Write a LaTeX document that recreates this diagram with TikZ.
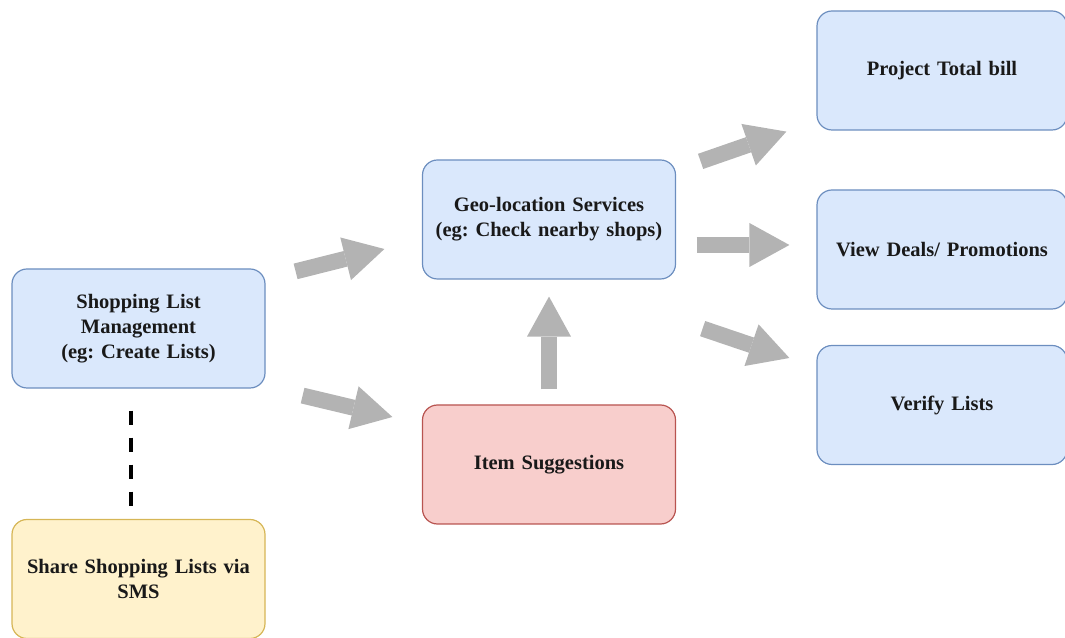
\documentclass[tikz,border=0pt]{standalone}
\usepackage{fontspec}
\setmainfont{Liberation Serif}
\usetikzlibrary{arrows.meta}
\frenchspacing

\definecolor{bluefill}{HTML}{DAE8FC}
\definecolor{blueline}{HTML}{6C8EBF}
\definecolor{redfill}{HTML}{F8CECC}
\definecolor{redline}{HTML}{B85450}
\definecolor{yellowfill}{HTML}{FFF2CC}
\definecolor{yellowline}{HTML}{D6B656}
\definecolor{arrowgray}{HTML}{B3B3B3}

\begin{document}
\begin{tikzpicture}[x=1pt,y=1pt,
		box/.style={draw, rounded corners=15pt, line width=1.2pt, minimum width=253pt, minimum height=119pt,
			text width=248pt, align=center, inner sep=0pt, text=black!90,
			font=\fontsize{20.5}{25}\selectfont\bfseries},
		bluebox/.style={box, fill=bluefill, draw=blueline},
		redbox/.style={box, fill=redfill, draw=redline},
		yellowbox/.style={box, fill=yellowfill, draw=yellowline},
		sidebox/.style={bluebox, minimum width=250pt},
		bigarrow/.style={draw=arrowgray, line width=16pt, -{Triangle[length=40pt,width=44pt,line width=0pt]}},
		dashline/.style={line width=4pt, dash pattern=on 14pt off 13pt}]
	\clip (0,0) rectangle (1065,637);
	\node[bluebox]   (mgmt)   at (138.5,308.5) {Shopping List\\Management\\(eg: Create Lists)};
	\node[yellowbox] (share)  at (138.5,58)    {Share Shopping Lists via\\SMS};
	\node[bluebox]   (geo)    at (549  ,417.5) {Geo-location Services\\(eg: Check nearby shops)};
	\node[redbox]    (items)  at (549  ,172.5) {Item Suggestions};
	\node[sidebox]   (total)  at (942  ,566.5) {Project Total bill};
	\node[sidebox]   (deals)  at (942  ,387.5) {View Deals/ Promotions};
	\node[sidebox]   (verify) at (942  ,232)   {Verify Lists};

	% shared lists hang off the management box
	\draw[dashline] ([shift={(-7.5,-22)}]mgmt.south) -- ([shift={(-7.5,13)}]share.north);

	\draw[bigarrow] ([shift={(30,-3)}]mgmt.north east) -- ([shift={(-37.5,-29.5)}]geo.west);
	\draw[bigarrow] ([shift={(37,-7)}]mgmt.south east) -- ([shift={(-29.5,47.5)}]items.west);
	\draw[bigarrow] ([yshift=15]items.north) -- ([yshift=-17]geo.south);
	\draw[bigarrow] ([shift={(24.5,-2)}]geo.north east) -- ([shift={(-30,-1)}]total.south west);
	\draw[bigarrow] ([shift={(20.5,-25.5)}]geo.east) -- ([shift={(-27,4.5)}]deals.west);
	\draw[bigarrow] ([shift={(26.5,-49)}]geo.south east) -- ([shift={(-27,47)}]verify.west);
\end{tikzpicture}
\end{document}
